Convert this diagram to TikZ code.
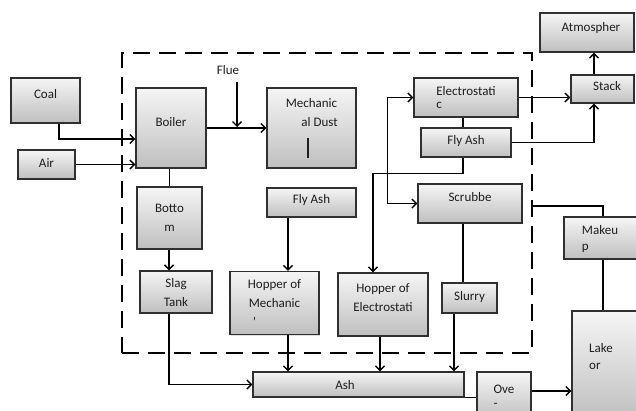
\documentclass[tikz,border=0pt]{standalone}
\usepackage{fontspec}
\setmainfont{Carlito}
\usetikzlibrary{arrows.meta,positioning,shadows}
\definecolor{boxedge}{HTML}{303030}
\definecolor{boxtop}{HTML}{F5F5F5}
\definecolor{boxbottom}{HTML}{BFBFBF}
\definecolor{inktext}{HTML}{1E1E1E}

\begin{document}
\begin{tikzpicture}[
  x=1pt, y=-1pt,
  font=\fontsize{13}{19}\selectfont,
  >={Straight Barb[length=4.5pt,width=9pt]},
  unitbox/.style={
    draw=boxedge,
    line width=1.1pt,
    top color=boxtop,
    bottom color=boxbottom,
    text=inktext,
    align=center,
    inner sep=1pt,
    text depth=7pt,
    drop shadow={opacity=0.25, shadow xshift=1pt, shadow yshift=-1pt}
  },
  flow/.style={line width=1.4pt, draw=black},
  plantframe/.style={draw=black, line width=2.6pt, dash pattern=on 17pt off 9pt}
]
  \useasboundingbox (0,0) rectangle (636,410);

  % dashed plant boundary
  \node[plantframe, minimum width=410pt, minimum height=300pt] (plant) at (327,203) {};

  % fuel side
  \node[unitbox, minimum width=69pt, minimum height=45pt, text depth=13pt] (coal) at (45.5,100.5) {Coal};
  \node[unitbox, minimum width=57pt, minimum height=29pt, text depth=3pt] (air) at (46.5,164.5) {Air};
  \node[unitbox, minimum width=70pt, minimum height=80pt, text depth=12pt] (boiler) at (171,128) {Boiler};
  \node[text=inktext, inner sep=3pt] (flue) at (228,70) {Flue};
  \coordinate (fluejoin) at (237,127);

  % bottom ash line
  \node[unitbox, minimum width=65pt, minimum height=62pt, text depth=-6pt] (bottom) at (169.5,218) {Botto\\m};
  \node[unitbox, minimum width=72pt, minimum height=42pt, text depth=-18pt] (slag) at (176,292) {Slag\\Tank};

  % mechanical collector line
  \node[unitbox, minimum width=89pt, minimum height=80pt, text depth=-17pt] (mech) at (311.5,128)
    {Mechanic\\\hspace*{16pt}al Dust\\[10pt]\rule{1.6pt}{20pt}\hspace*{7pt}};
  \node[unitbox, minimum width=89pt, minimum height=29pt] (flymech) at (311.5,202.5) {Fly Ash};
  \node[unitbox, minimum width=89pt, minimum height=63pt, text depth=-16pt] (hopmech) at (274.5,303) {Hopper of\\Mechanic\\'\hspace*{40pt}};

  % electrostatic line
  \node[unitbox, minimum width=104pt, minimum height=39pt, align=left, text depth=-8pt] (elec) at (466,97.5) {Electrostati\\[-6pt]c};
  \node[unitbox, minimum width=90pt, minimum height=29pt, text depth=5pt] (flyelec) at (466,142.5) {Fly Ash};
  \node[unitbox, minimum width=90pt, minimum height=63pt, text depth=13pt] (hopelec) at (383,304.5) {Hopper of\\Electrostati};

  % scrubber line
  \node[unitbox, minimum width=104pt, minimum height=39pt, text depth=13pt] (scrub) at (470,203.5) {Scrubbe};
  \node[unitbox, minimum width=55pt, minimum height=30pt, text depth=4pt] (slurry) at (469.5,298) {Slurry};

  % stack and outside
  \node[unitbox, minimum width=63pt, minimum height=28pt] (stack) at (602.5,89) {\hspace*{9pt}Stack};
  \node[unitbox, minimum width=94pt, minimum height=39pt, text depth=11pt] (atmo) at (587,32.5) {\hspace*{8pt}Atmospher};
  \node[unitbox, minimum width=82pt, minimum height=42pt, align=left, text depth=-11pt] (makeu) at (605,238) {Makeu\hspace*{10pt}\\[-3pt]p};
  \node[unitbox, minimum width=74pt, minimum height=109pt, align=left, text depth=18pt] (lake) at (609,365.5) {Lake\hspace*{16pt}\\[-2pt]or};
  \node[unitbox, minimum width=54pt, minimum height=48pt, align=left, text depth=-2pt] (ove) at (504,396) {Ove\\[-5pt]-};
  \node[unitbox, minimum width=211pt, minimum height=25pt, text depth=0pt] (ash) at (358.5,384.5) {Ash\hspace*{27pt}};
  \coordinate (mkin) at (532,206);

  % connectors
  \draw[flow,->] ([xshift=13.5pt]coal.south) |- ([yshift=-11pt]boiler.west);
  \draw[flow,->] (air.east) -- (air.east -| boiler.west);
  \draw[flow,->] (boiler.east) -- (mech.west);
  \draw[flow,->] ([yshift=-4pt]fluejoin |- flue.south) -- (fluejoin);
  \draw[flow] (boiler.south -| bottom.north) -- (bottom.north);
  \draw[flow,->] ([xshift=-0.5pt]bottom.south) -- ([xshift=-0.5pt]bottom.south |- slag.north);
  \draw[flow,->] ([xshift=-7pt]slag.south) |- (ash.west);
  \draw[flow,->] ([xshift=-23.5pt]flymech.south) -- ([xshift=-23.5pt]flymech.south |- hopmech.north);
  \draw[flow,->] ([xshift=13.5pt]hopmech.south) -- ([xshift=13.5pt]hopmech.south |- ash.north);
  \draw[flow] ([xshift=-3pt]elec.south) -- ([xshift=-3pt]flyelec.north);
  \draw[flow,->] ([xshift=-3pt]flyelec.south) -- ++(0,16) -| ([xshift=-10pt]hopelec.north);
  \draw[flow,<->] (elec.west) -- ++(-26,0) |- (scrub.west);
  \draw[flow,->] (elec.east) -- (elec.east -| stack.west);
  \draw[flow,->] (flyelec.east) -| ([xshift=-8.5pt]stack.south);
  \draw[flow,->] ([xshift=-8.5pt]stack.north) -- ([xshift=-8.5pt]stack.north |- atmo.south);
  \draw[flow] ([xshift=-7pt]scrub.south) -- ([xshift=-7pt]scrub.south |- slurry.north);
  \draw[flow,->] ([xshift=-15.5pt]slurry.south) -- ([xshift=-15.5pt]slurry.south |- ash.north);
  \draw[flow,->] ([xshift=-3pt]hopelec.south) -- ([xshift=-3pt]hopelec.south |- ash.north);
  \draw[flow] (ash.south east) -- (ash.south east -| ove.west);
  \draw[flow,->] ([yshift=5pt]ove.east) -- ([yshift=5pt]ove.east -| lake.west);
  \draw[flow] (mkin) -| ([xshift=-2pt]makeu.north);
  \draw[flow] ([xshift=-2pt]makeu.south) -- ([xshift=-2pt]makeu.south |- lake.north);

\end{tikzpicture}
\end{document}
